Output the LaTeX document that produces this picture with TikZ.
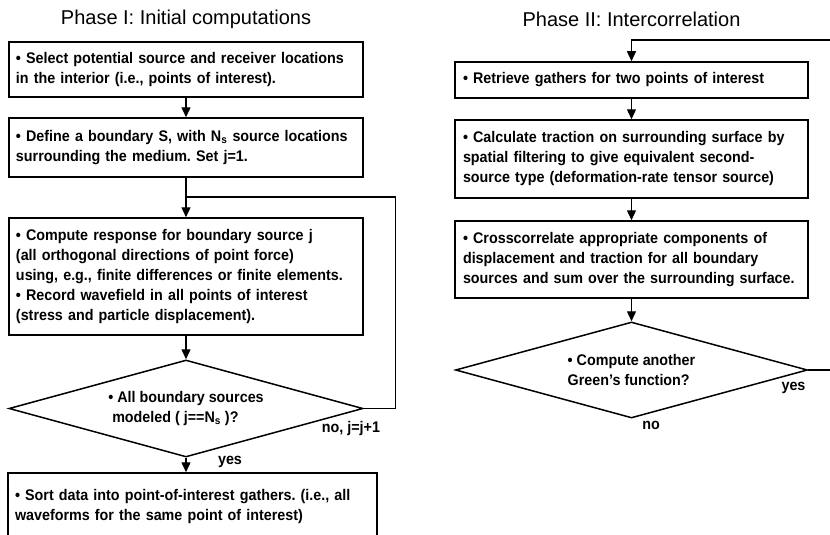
\documentclass[tikz,border=0pt]{standalone}
\usepackage{fontspec}
\setmainfont{Liberation Sans}
\newfontfamily\boxfont[FakeStretch=0.93]{Liberation Sans}
\usetikzlibrary{arrows.meta,positioning,calc,shapes.geometric}
\frenchspacing

\tikzset{
  stepbox/.style={draw, line width=1.5pt, rectangle, align=left, inner xsep=7pt, inner ysep=0pt,
    font=\boxfont\bfseries\fontsize{15.4}{20}\selectfont},
  decide/.style={draw, line width=1.5pt, diamond, aspect=3.6, inner sep=0pt, align=left,
    font=\boxfont\bfseries\fontsize{15.4}{20.5}\selectfont},
  flow/.style={->, line width=1.4pt},
  tag/.style={font=\boxfont\bfseries\fontsize{15.4}{18}\selectfont, inner sep=0pt},
  phase/.style={font=\fontsize{20}{24}\selectfont, inner sep=0pt, anchor=base},
}

\begin{document}
\begin{tikzpicture}[x=1pt, y=-1pt, >={Triangle[length=10pt,width=9pt]}]
        \useasboundingbox (0,0) rectangle (830,535);
        \clip (0,0) rectangle (830,535);
        \fill[white] (0,0) rectangle (830,535);

        % Phase I column
        \node[phase] (ph1) at (186,25) {Phase I: Initial computations};
        \node[stepbox, text width=340pt, minimum height=55pt] (sel) at (186,69.5)
            {\textbullet{} Select potential source and receiver locations\\in the interior (i.e., points of interest).};
        \node[stepbox, text width=340pt, minimum height=59pt] (bnd) at (186,147.5)
            {\textbullet{} Define a boundary S, with N\textsubscript{s} source locations\\surrounding the medium. Set j=1.};
        \node[stepbox, text width=340pt, minimum height=117pt] (comp) at (186,276.5)
            {\textbullet{} Compute response for boundary source j\\(all orthogonal directions of point force)\\using, e.g., finite differences or finite elements.\\\textbullet{} Record wavefield in all points of interest\\(stress and particle displacement).};
        \node[decide, minimum width=354pt, minimum height=97pt] (alldone) at (186,408.5)
            {\textbullet{} All boundary sources\\\ modeled ( j==N\textsubscript{s} )?};
        \node[stepbox, text width=355pt, minimum height=67pt] (sort) at (192.5,506.5)
            {\textbullet{} Sort data into point-of-interest gathers. (i.e., all\\waveforms for the same point of interest)};

        \draw[flow] (sel) -- (bnd);
        \draw[flow] (bnd) -- (comp);
        \draw[flow] (comp) -- (alldone);
        \draw[flow] (alldone.south) -- (alldone.south |- sort.north);
        \coordinate (joinL) at (186,197);
        \draw[line width=1.4pt] (alldone.east) -- ++(32,0) |- (joinL);
        \node[tag] (nolab) at (351,429) {no, j=j+1};
        \node[tag] (yeslab) at (230,462) {yes};

        % Phase II column
        \node[phase] (ph2) at (631.5,27) {Phase II: Intercorrelation};
        \node[stepbox, inner xsep=8pt, text width=337pt, minimum height=36pt] (retr) at (631.5,80)
            {\textbullet{} Retrieve gathers for two points of interest};
        \node[stepbox, inner xsep=8pt, text width=337pt, minimum height=78pt] (trac) at (631.5,159)
            {\textbullet{} Calculate traction on surrounding surface by\\spatial filtering to give equivalent second-\\source type (deformation-rate tensor source)};
        \node[stepbox, inner xsep=8pt, text width=337pt, minimum height=77pt] (xcorr) at (631.5,259.5)
            {\hyphenpenalty=10000 \textbullet{} Crosscorrelate appropriate components of\\displacement and traction for all boundary\\sources and sum over the surrounding surface.};
        \node[decide, minimum width=352pt, minimum height=96pt] (another) at (631.5,370)
            {\textbullet{} Compute another\\Green’s function?};

        \draw[flow] (retr) -- (trac);
        \draw[flow] (trac) -- (xcorr);
        \draw[flow] (xcorr) -- (another);
        \coordinate (loopTop) at (631.5,40);
        \draw[flow] (another.east) -- ++(40,0) |- (loopTop) -- (retr);
        \node[tag] (yesR) at (793.5,388) {yes};
        \node[tag] (noR) at (651,425) {no};
    \end{tikzpicture}
\end{document}
